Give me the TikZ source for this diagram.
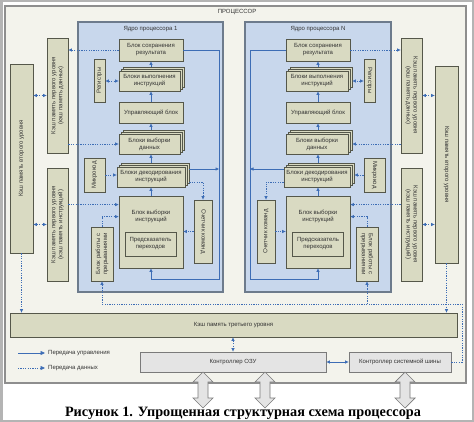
\documentclass[tikz,border=0pt]{standalone}
\usepackage{fontspec}
\usepackage{graphicx}
\setmainfont{Liberation Sans}
\newfontfamily\capfont{Liberation Serif}
\usetikzlibrary{arrows.meta,calc}
\definecolor{arrowblue}{HTML}{3D6DB5}
\definecolor{blkfill}{HTML}{D9DAC2}
\definecolor{boxline}{HTML}{55574A}
\definecolor{corefill}{HTML}{C8D7EC}
\definecolor{coreline}{HTML}{6D7B8C}
\definecolor{procfill}{HTML}{F3F3EC}
\definecolor{procline}{HTML}{8E8E8E}
\definecolor{ctrlfill}{HTML}{E4E4E4}
\definecolor{ctrlline}{HTML}{7A7A7A}
\definecolor{txt}{HTML}{333333}
\definecolor{framegray}{HTML}{B4B4B4}
\newcommand{\stackblk}[5]{%
  \node[box,minimum width=#3,minimum height=#4] (#1b) at ($#2+(4,-4)$) {};
  \node[box,minimum width=#3,minimum height=#4] (#1m) at ($#2+(2,-2)$) {};
  \node[box,minimum width=#3,minimum height=#4] (#1) at #2 {#5};}
\newcommand{\vdblarrow}[1]{%
  \draw[dblarrow] (#1-5,382) -- (#1-10,382) -- (#1,372) -- (#1+10,382) -- (#1+5,382)
    -- (#1+5,398) -- (#1+10,398) -- (#1,408) -- (#1-10,398) -- (#1-5,398) -- cycle;}
\begin{document}
\begin{tikzpicture}[x=1pt,y=-1pt,
  lbl/.style={font=\fontsize{6}{7}\selectfont, text=txt, align=center, inner sep=0pt},
  box/.style={lbl, draw=boxline, fill=blkfill, line width=0.8pt, inner sep=1pt},
  corebox/.style={draw=coreline, fill=corefill, line width=1.2pt},
  ctrlbox/.style={lbl, draw=ctrlline, fill=ctrlfill, line width=0.8pt},
  rup/.style={lbl, rotate=90},
  rdn/.style={lbl, rotate=-90},
  tip/.tip={Triangle[length=3.5pt,width=3pt]},
  ctl/.style={draw=arrowblue, line width=0.7pt, -tip},
  ctlb/.style={draw=arrowblue, line width=0.7pt, tip-tip},
  dat/.style={ctl, dash pattern=on 1.2pt off 1.2pt},
  datb/.style={ctlb, dash pattern=on 1.2pt off 1.2pt},
  dblarrow/.style={draw=ctrlline, fill=ctrlfill, line width=0.7pt, line join=miter}
]
\useasboundingbox (0,0) rectangle (474,422);
\fill[white] (0,0) rectangle (474,422);
\draw[framegray, line width=2.5pt] (1.25,1.25) rectangle (472.75,420.75);

% processor
\node[draw=procline, fill=procfill, line width=1.4pt, minimum width=461pt, minimum height=377pt] (proc) at (235.5,194.5) {};
\node[lbl] (proct) at (237,12) {ПРОЦЕССОР};

% cores
\node[corebox, minimum width=145pt, minimum height=270pt] (core1) at (150.5,157) {};
\node[corebox, minimum width=146pt, minimum height=270pt] (coreN) at (318,157) {};
\node[lbl] (core1t) at (150.5,29) {Ядро процессора 1};
\node[lbl] (coreNt) at (318,29) {Ядро процессора N};

% ---- core 1
\coordinate (col1) at (151,0);
\coordinate (r1) at (219,279);
\node[box, minimum width=64pt, minimum height=22pt] (res1) at (151,50) {Блок сохранения\\результата};
\stackblk{exe1}{(149.5,81)}{61pt}{20pt}{Блоки выполнения\\инструкций}
\node[box, minimum width=64pt, minimum height=21pt] (ctl1) at (151,112.5) {Управляющий блок};
\stackblk{dfetch1}{(149.5,144)}{61pt}{20pt}{Блоки выборки\\данных}
\stackblk{dec1}{(151,177)}{68pt}{20pt}{Блоки декодирования\\инструкций}
\node[box, minimum width=64pt, minimum height=72pt] (ifetch1) at (151,232) {};
\node[lbl] (ifetch1t) at (151,216) {Блок выборки\\инструкций};
\node[box, minimum width=51pt, minimum height=24pt] (pred1) at (150.5,244) {Предсказатель\\переходов};
\node[box, minimum width=18pt, minimum height=63pt] (cnt1) at (203,231.5) {};
\node[rdn] (cnt1t) at (cnt1) {Счетчик команд};
\node[box, minimum width=22pt, minimum height=54pt] (int1) at (102,254) {};
\node[rup] (int1t) at (int1) {Блок работы с\\прерываниями};
\node[box, minimum width=11pt, minimum height=43pt] (reg1) at (99.5,80.5) {};
\node[rup] (reg1t) at (reg1) {Регистры};
\node[box, minimum width=21pt, minimum height=34pt] (mc1) at (94.5,175) {};
\node[rup] (mc1t) at (mc1) {Микрокод};

% ---- core N
\coordinate (colN) at (318,0);
\coordinate (rN) at (250,279);
\node[box, minimum width=64pt, minimum height=22pt] (resN) at (318,50) {Блок сохранения\\результата};
\stackblk{exeN}{(317,81)}{62pt}{20pt}{Блоки выполнения\\инструкций}
\node[box, minimum width=64pt, minimum height=21pt] (ctlN) at (318,112.5) {Управляющий блок};
\stackblk{dfetchN}{(317,144)}{62pt}{20pt}{Блоки выборки\\данных}
\stackblk{decN}{(317,177)}{66pt}{20pt}{Блоки декодирования\\инструкций}
\node[box, minimum width=64pt, minimum height=72pt] (ifetchN) at (318,232) {};
\node[lbl] (ifetchNt) at (318,216) {Блок выборки\\инструкций};
\node[box, minimum width=51pt, minimum height=24pt] (predN) at (318,244) {Предсказатель\\переходов};
\node[box, minimum width=18pt, minimum height=63pt] (cntN) at (266,231.5) {};
\node[rup] (cntNt) at (cntN) {Счетчик команд};
\node[box, minimum width=22pt, minimum height=54pt] (intN) at (367,254) {};
\node[rdn] (intNt) at (intN) {Блок работы с\\прерываниями};
\node[box, minimum width=11pt, minimum height=43pt] (regN) at (369.5,80.5) {};
\node[rdn] (regNt) at (regN) {Регистры};
\node[box, minimum width=21pt, minimum height=34pt] (mcN) at (374.5,175) {};
\node[rdn] (mcNt) at (mcN) {Микрокод};

% ---- caches
\node[box, minimum width=21pt, minimum height=115pt] (l1d1) at (57.5,95.5) {};
\node[rup] (l1d1t) at (l1d1) {Кэш память первого уровня\\(кэш память данных)};
\node[box, minimum width=21pt, minimum height=113pt] (l1i1) at (57.5,224.5) {};
\node[rup] (l1i1t) at (l1i1) {Кэш память первого уровня\\(кэш память инструкций)};
\node[box, minimum width=23pt, minimum height=189pt] (l2a) at (21.5,158.5) {};
\node[rup] (l2at) at (l2a) {Кэш память второго уровня};
\node[box, minimum width=21pt, minimum height=115pt] (l1dN) at (411.5,95.5) {};
\node[rdn] (l1dNt) at (l1dN) {Кэш память первого уровня\\(кэш память данных)};
\node[box, minimum width=21pt, minimum height=113pt] (l1iN) at (411.5,224.5) {};
\node[rdn] (l1iNt) at (l1iN) {Кэш память первого уровня\\(кэш память инструкций)};
\node[box, minimum width=23pt, minimum height=197pt] (l2b) at (446.5,164.5) {};
\node[rdn] (l2bt) at (l2b) {Кэш память второго уровня};

\node[box, minimum width=447pt, minimum height=24pt] (l3) at (233.5,325) {Кэш память третьего уровня};
\node[ctrlbox, minimum width=186pt, minimum height=20pt] (ram) at (233,362) {Контроллер ОЗУ};
\node[ctrlbox, minimum width=102pt, minimum height=20pt] (bus) at (400,362) {Контроллер системной шины};

% ---- core 1 connectors
\draw[ctl] (ifetch1.north) -- (col1 |- dec1.south);
\draw[ctl] (col1 |- dec1b.north) -- (col1 |- dfetch1.south);
\draw[ctl] (col1 |- dfetch1b.north) -- (ctl1.south);
\draw[ctl] (ctl1.north) -- (col1 |- exe1.south);
\draw[ctl] (col1 |- exe1b.north) -- (res1.south);
\draw[ctl] (res1.east) -| (r1) -- (col1 |- r1) -- (ifetch1.south);
\coordinate (d1) at ($(dec1b.east)+(0,-4)$);
\draw[ctl] (d1) -- (d1 -| r1);
\draw[dat] (res1.west) -- (res1.west -| l1d1.east);
\draw[datb] (reg1.east |- exe1.west) -- (exe1.west);
\draw[dat] (l1d1.east |- dfetch1.west) -- (dfetch1.west);
\draw[dat] (mc1.east) -- (mc1.east -| dec1.west);
\coordinate (f1) at ($(ifetch1.north west)+(0,9)$);
\draw[dat] (f1 -| l1i1.east) -- (f1);
\coordinate (i1) at ($(int1.north)+(0,-10)$);
\draw[dat] (int1.north) -- (i1) -- (i1 -| ifetch1.west);
\coordinate (d1b) at ($(dec1b.east)+(0,9)$);
\draw[dat] (d1b) -| (cnt1.north);
\draw[dat] (cnt1.west) -- (cnt1.west -| ifetch1.east);

% ---- core N connectors
\draw[ctl] (ifetchN.north) -- (colN |- decN.south);
\draw[ctl] (colN |- decNb.north) -- (colN |- dfetchN.south);
\draw[ctl] (colN |- dfetchNb.north) -- (ctlN.south);
\draw[ctl] (ctlN.north) -- (colN |- exeN.south);
\draw[ctl] (colN |- exeNb.north) -- (resN.south);
\draw[ctl] (resN.west) -| (rN) -- (colN |- rN) -- (ifetchN.south);
\coordinate (dN) at ($(decN.west)+(0,-8)$);
\draw[ctl] (dN) -- (dN -| rN);
\draw[dat] (resN.east) -- (resN.east -| l1dN.west);
\draw[datb] (regN.west |- exeN.east) -- (exeNb.east |- exeN.east);
\draw[dat] (l1dN.west |- dfetchN.east) -- (dfetchNb.east |- dfetchN.east);
\draw[dat] (mcN.west) -- (mcN.west -| decNb.east);
\coordinate (fN) at ($(ifetchN.north east)+(0,9)$);
\draw[dat] (fN -| l1iN.west) -- (fN);
\coordinate (iN) at ($(intN.north)+(0,-10)$);
\draw[dat] (intN.north) -- (iN) -- (iN -| ifetchN.east);
\coordinate (dNb) at ($(decN.west)+(0,5)$);
\draw[dat] (dNb) -| (cntN.north);
\draw[dat] (cntN.east) -- (cntN.east -| ifetchN.west);

% ---- cache connectors
\draw[datb] (l2a.east |- l1d1.west) -- (l1d1.west);
\draw[datb] (l2a.east |- l1i1.west) -- (l1i1.west);
\draw[datb] (l1dN.east) -- (l1dN.east -| l2b.west);
\draw[datb] (l1iN.east) -- (l1iN.east -| l2b.west);
\draw[dat] (l2a.south) -- (l2a.south |- l3.north);
\draw[dat] (l2b.south) -- (l2b.south |- l3.north);
\draw[datb] (l3.south -| ram.north) -- (ram.north);
\draw[ctlb] (ram.east) -- (bus.west);
\coordinate (ib) at (462,304);
\draw[dat] (bus.east) -| (ib) -- (ib -| int1.south) -- (int1.south);
\draw[dat] (intN.south |- ib) -- (intN.south);

% ---- legend
\coordinate (lg1) at (18,353);
\coordinate (lg1e) at (45,353);
\coordinate (lg2) at (18,368);
\coordinate (lg2e) at (45,368);
\draw[ctl, -{Triangle[length=4.5pt,width=4pt]}] (lg1) -- (lg1e);
\draw[dat, -{Triangle[length=4.5pt,width=4pt]}] (lg2) -- (lg2e);
\node[lbl, anchor=west] (lg1t) at (48,353) {Передача управления};
\node[lbl, anchor=west] (lg2t) at (48,368) {Передача данных};

% ---- external double arrows
\vdblarrow{203}
\vdblarrow{265}
\vdblarrow{405}

% ---- caption
\node[inner sep=0pt, anchor=base] (cap) at (243,416.5) {\resizebox{356pt}{!}{\capfont\bfseries\fontsize{14}{16}\selectfont Рисунок 1. Упрощенная структурная схема процессора}};
\end{tikzpicture}
\end{document}
